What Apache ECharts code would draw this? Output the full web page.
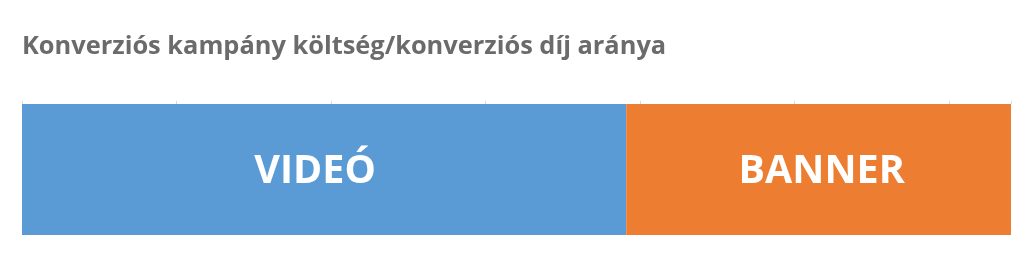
<!DOCTYPE html>
<html>
<head>
<meta charset="utf-8">
<script src="https://cdn.jsdelivr.net/npm/echarts@6/dist/echarts.min.js"></script>
<style>html,body{margin:0;padding:0;background:#fff}#c{width:1024px;height:264px}</style>
</head>
<body>
<div id="c"></div>
<script>
var titleText = 'Konverziós kampány költség/konverziós díj aránya';
var categories = [''];
var seriesNames = ['VIDEÓ', 'BANNER'];
var videoValues = [3.91];
var bannerValues = [2.49];
var axisMax = 6.4;

var chart = echarts.init(document.getElementById('c'));
chart.setOption({
  animation: false,
  backgroundColor: '#ffffff',
  title: {
    text: titleText,
    left: 22, top: 34, padding: 0,
    textStyle: { fontFamily: 'Open Sans', fontWeight: 'bold', fontSize: 25.4, color: '#6b6b6b' }
  },
  grid: { left: 22, right: 13, top: 104, height: 131 },
  xAxis: {
    type: 'value', position: 'top', min: 0, max: axisMax, interval: 1,
    axisLine: { show: false },
    axisTick: { show: true, length: 3, lineStyle: { color: '#d9d9d9' } },
    axisLabel: { show: false },
    splitLine: { show: false }
  },
  yAxis: { type: 'category', data: categories, show: false },
  series: [
    { name: seriesNames[0], type: 'bar', stack: 't', data: videoValues, barWidth: 131,
      itemStyle: { color: '#5b9bd5' },
      label: { show: true, position: 'inside', formatter: seriesNames[0], color: '#fff', offset: [-9, 2],
        fontFamily: 'Open Sans', fontWeight: 'bold', fontSize: 39.5 } },
    { name: seriesNames[1], type: 'bar', stack: 't', data: bannerValues, barWidth: 131,
      itemStyle: { color: '#ed7d31' },
      label: { show: true, position: 'inside', formatter: seriesNames[1], color: '#fff', offset: [3, 2],
        fontFamily: 'Open Sans', fontWeight: 'bold', fontSize: 39.5 } }
  ]
});
</script>
</body>
</html>
